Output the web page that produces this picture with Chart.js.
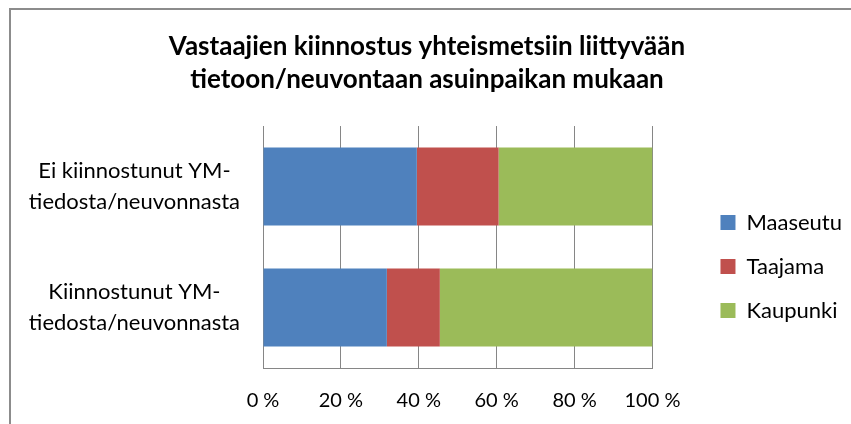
<!DOCTYPE html>
<html>
<head>
<meta charset="utf-8">
<script src="https://cdn.jsdelivr.net/npm/chart.js@4/dist/chart.umd.min.js"></script>
<style>
  html, body { margin: 0; padding: 0; background: #fff; }
  #wrap { position: relative; width: 851px; height: 424px; overflow: hidden; }
  #frame { position: absolute; left: 9px; top: 8px; width: 900px; height: 500px; border: 2px solid #8c8c8c; }
  #c { position: absolute; left: 0; top: 0; }
</style>
</head>
<body>
<div id="wrap">
  <div id="frame"></div>
  <canvas id="c" width="851" height="424"></canvas>
</div>
<script>
// Categories (top to bottom)
const categories = [
    ["Ei kiinnostunut YM-", "tiedosta/neuvonnasta"],
    ["Kiinnostunut YM-", "tiedosta/neuvonnasta"]
];

// Share of respondents by place of residence (%)
const maaseutu = [39.5, 31.8];
const taajama = [21.0, 13.6];
const kaupunki = [39.5, 54.6];

const xTicks = [0, 20, 40, 60, 80, 100];

const FONT = "Lato";

// Move the legend away from the plot area and re-center the title, like in the original
const shiftBoxes = {
    id: "shiftBoxes",
    afterLayout(chart) {
        const lg = chart.legend;
        lg.left += 46;
        lg.right += 46;
        lg.top += 60;
        lg.bottom += 60;
        const tb = chart.titleBlock;
        tb.left += 24;
        tb.right += 24;
    }
};

const ctx = document.getElementById("c").getContext("2d");
new Chart(ctx, {
    type: "bar",
    data: {
        labels: categories,
        datasets: [
            { label: "Maaseutu", data: maaseutu, backgroundColor: "#4F81BD" },
            { label: "Taajama", data: taajama, backgroundColor: "#C0504D" },
            { label: "Kaupunki", data: kaupunki, backgroundColor: "#9BBB59" }
        ]
    },
    options: {
        indexAxis: "y",
        responsive: false,
        animation: false,
        layout: { padding: { left: 0, right: 45, top: 0, bottom: 11 } },
        datasets: {
            bar: { barPercentage: 0.645, categoryPercentage: 1 }
        },
        scales: {
            x: {
                stacked: true,
                min: 0,
                max: 100,
                clip: false,
                afterBuildTicks(scale) {
                    scale.ticks = xTicks.map(v => ({ value: v }));
                },
                afterFit(scale) { scale.height = 45; },
                ticks: {
                    callback: v => v + " %",
                    color: "#000",
                    padding: 21,
                    maxRotation: 0,
                    font: { family: FONT, size: 20 }
                },
                grid: { color: "#868686", drawTicks: false },
                border: { color: "#868686" }
            },
            y: {
                stacked: true,
                afterFit(scale) { scale.width = 263; },
                ticks: {
                    color: "#000",
                    crossAlign: "center",
                    padding: 15,
                    font: { family: FONT, size: 22, lineHeight: 1.4 }
                },
                grid: { display: false },
                border: { color: "#868686" }
            }
        },
        plugins: {
            title: {
                display: true,
                text: ["Vastaajien kiinnostus yhteismetsiin liittyvään", "tietoon/neuvontaan asuinpaikan mukaan"],
                color: "#000",
                font: { family: FONT, size: 26, weight: "bold", lineHeight: 1.27 },
                padding: { top: 30.5, bottom: 29.5 }
            },
            legend: {
                position: "right",
                labels: {
                    color: "#000",
                    boxWidth: 15,
                    boxHeight: 15,
                    padding: 22,
                    font: { family: FONT, size: 22 }
                }
            },
            tooltip: { enabled: false }
        }
    },
    plugins: [shiftBoxes]
});
</script>
</body>
</html>
